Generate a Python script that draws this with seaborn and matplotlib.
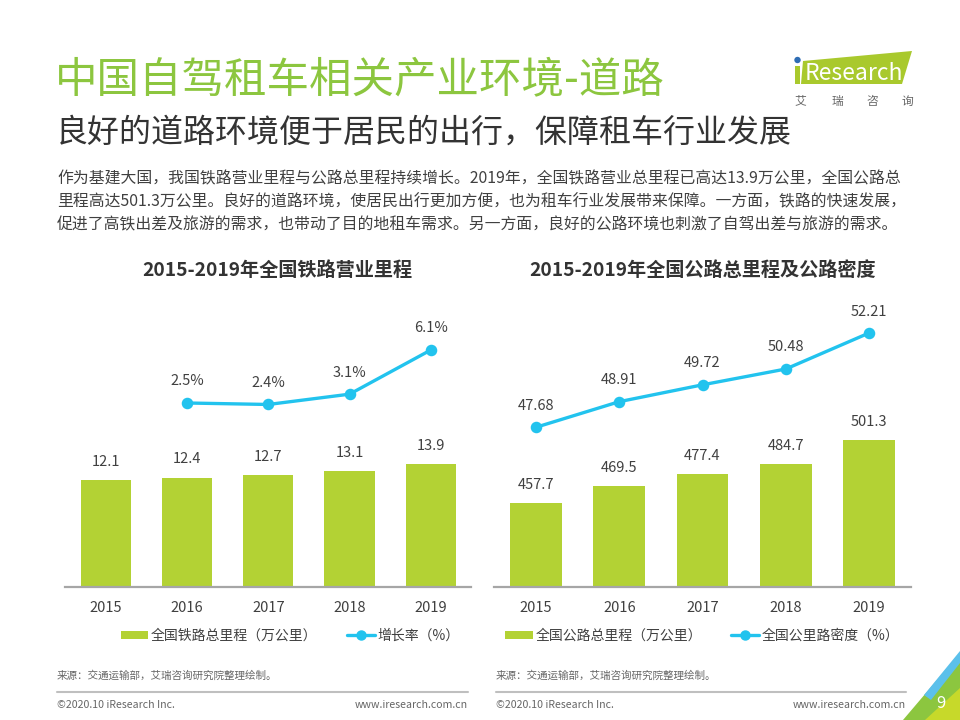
import numpy as np
import pandas as pd
import seaborn as sns
import matplotlib.pyplot as plt
from matplotlib.patches import Polygon, Rectangle, Circle, Patch
from matplotlib.lines import Line2D

# data
years = ['2015', '2016', '2017', '2018', '2019']
rail_km = [12.1, 12.4, 12.7, 13.1, 13.9]
rail_growth_years = ['2016', '2017', '2018', '2019']
rail_growth = [2.5, 2.4, 3.1, 6.1]
road_km = [457.7, 469.5, 477.4, 484.7, 501.3]
road_density = [47.68, 48.91, 49.72, 50.48, 52.21]

sns.set_theme(style='white')
plt.rcParams['font.family'] = ['Noto Sans CJK SC', 'DejaVu Sans']

GREEN = '#B3D234'
BLUE = '#22C3EE'
TXT = '#404040'
W, H = 960, 720

fig = plt.figure(figsize=(9.6, 7.2), dpi=100)
fig.patch.set_facecolor('white')

# overlay in pixel coords for the slide furniture
bg = fig.add_axes([0, 0, 1, 1], zorder=0)
bg.set_xlim(0, W)
bg.set_ylim(H, 0)
bg.axis('off')

bg.text(55, 80, '中国自驾租车相关产业环境-道路', fontsize=30.6, color='#8CC63F', va='center', ha='left')
bg.text(56, 133, '良好的道路环境便于居民的出行，保障租车行业发展', fontsize=23, color='#333333', va='center', ha='left')
para = ['作为基建大国，我国铁路营业里程与公路总里程持续增长。2019年，全国铁路营业总里程已高达13.9万公里，全国公路总',
        '里程高达501.3万公里。良好的道路环境，使居民出行更加方便，也为租车行业发展带来保障。一方面，铁路的快速发展，',
        '促进了高铁出差及旅游的需求，也带动了目的地租车需求。另一方面，良好的公路环境也刺激了自驾出差与旅游的需求。']
for i, line in enumerate(para):
    bg.text(57, 179 + 23 * i, line, fontsize=11.4, color=TXT, va='center', ha='left')

bg.text(277, 270, '2015-2019年全国铁路营业里程', fontsize=13.8, fontweight='bold', color='#333333', ha='center', va='center')
bg.text(703, 270, '2015-2019年全国公路总里程及公路密度', fontsize=13.8, fontweight='bold', color='#333333', ha='center', va='center')

# logo
bg.add_patch(Polygon([(803, 61), (912, 51), (902, 84), (801, 84)], closed=True, color='#A9C92D', lw=0))
bg.add_patch(Rectangle((795, 66), 5, 18, color='#A9C92D', lw=0))
bg.add_patch(Circle((797.5, 60), 3.2, color='#2E6DB4', lw=0))
bg.text(805, 73, 'Research', fontsize=16.5, color='white', va='center', ha='left')
for x, ch in zip([800, 837, 872, 907], '艾瑞咨询'):
    bg.text(x, 101, ch, fontsize=8.5, color='#666666', ha='center', va='center')

# footers
for x0, x1 in [(57, 468), (496, 906)]:
    bg.text(x0, 676, '来源：交通运输部，艾瑞咨询研究院整理绘制。', fontsize=7.6, color='#666666', va='center', ha='left')
    bg.plot([x0, x1], [692, 692], color='#BFBFBF', lw=1.5)
    bg.text(x0, 705, '©2020.10 iResearch Inc.', fontsize=7.6, color='#666666', va='center', ha='left')
    bg.text(x1, 705, 'www.iresearch.com.cn', fontsize=7.6, color='#666666', va='center', ha='right')

# corner
bg.add_patch(Polygon([(903, 720), (960, 653), (960, 720)], closed=True, color='#8CC63F', lw=0))
bg.add_patch(Polygon([(925, 720), (960, 688), (960, 720)], closed=True, color='#C7D92A', lw=0))
bg.add_patch(Polygon([(924, 695), (960, 651), (960, 663), (931, 700)], closed=True, color='#5BC0EB', lw=0))
bg.text(941, 703, '9', fontsize=12, color='white', ha='center', va='center')


def draw_chart(rect, bar_vals, line_x, line_vals, bar_lim, line_lim, line_fmt, legend_labels, legend_x):
    ax = fig.add_axes(rect, zorder=2)
    ax.patch.set_alpha(0)
    bdf = pd.DataFrame({'year': years, 'v': bar_vals})
    sns.barplot(data=bdf, x='year', y='v', order=years, color=GREEN, width=0.62,
                saturation=1, linewidth=0, ax=ax)
    ax.set_ylim(*bar_lim)
    ax.set_xlim(-0.5, 4.5)
    for i, v in enumerate(bar_vals):
        ax.annotate(f'{v}', (i, v), xytext=(0, 13), textcoords='offset points',
                    ha='center', va='center', fontsize=10.5, color=TXT)
    for s in ['top', 'left', 'right']:
        ax.spines[s].set_visible(False)
    ax.spines['bottom'].set_color('#A6A6A6')
    ax.spines['bottom'].set_linewidth(1.6)
    ax.set_yticks([])
    ax.set_xlabel('')
    ax.set_ylabel('')
    ax.tick_params(axis='x', length=0, pad=10, labelsize=10.5, labelcolor=TXT)

    ax2 = ax.twinx()
    ldf = pd.DataFrame({'year': line_x, 'v': line_vals})
    sns.pointplot(data=ldf, x='year', y='v', order=years, color=BLUE, ax=ax2,
                  markersize=6.5, linewidth=2.4, errorbar=None)
    ax2.set_ylim(*line_lim)
    ax2.set_xlim(-0.5, 4.5)
    for y, v in zip(line_x, line_vals):
        ax2.annotate(line_fmt.format(v), (years.index(y), v), xytext=(0, 15.5), textcoords='offset points',
                     ha='center', va='center', fontsize=10.5, color=TXT)
    ax2.axis('off')

    handles = [Patch(color=GREEN, lw=0),
               Line2D([0], [0], color=BLUE, lw=2.4, marker='o', markersize=6.5)]
    fig.legend(handles, legend_labels, loc='center', bbox_to_anchor=(legend_x / W, 1 - 636 / H),
               ncol=2, frameon=False, fontsize=10, handlelength=2.0, handleheight=0.55,
               handletextpad=0.2, columnspacing=2.1, labelcolor=TXT)


ax_h = 287 / H
ax_b = (H - 587) / H
draw_chart([65.2 / W, ax_b, 406.2 / W, ax_h], rail_km, rail_growth_years, rail_growth,
           (0, 287 / 8.83), (-10, -10 + 287 / 14.72), '{}%',
           ['全国铁路总里程（万公里）', '增长率（%）'], 290)
draw_chart([494.4 / W, ax_b, 416.2 / W, ax_h], road_km, years, road_density,
           (400, 400 + 287 / 1.454), (40, 40 + 287 / 20.8), '{:.2f}',
           ['全国公路总里程（万公里）', '全国公里路密度（%）'], 702)

fig.savefig('out.png', dpi=100, facecolor='white')
